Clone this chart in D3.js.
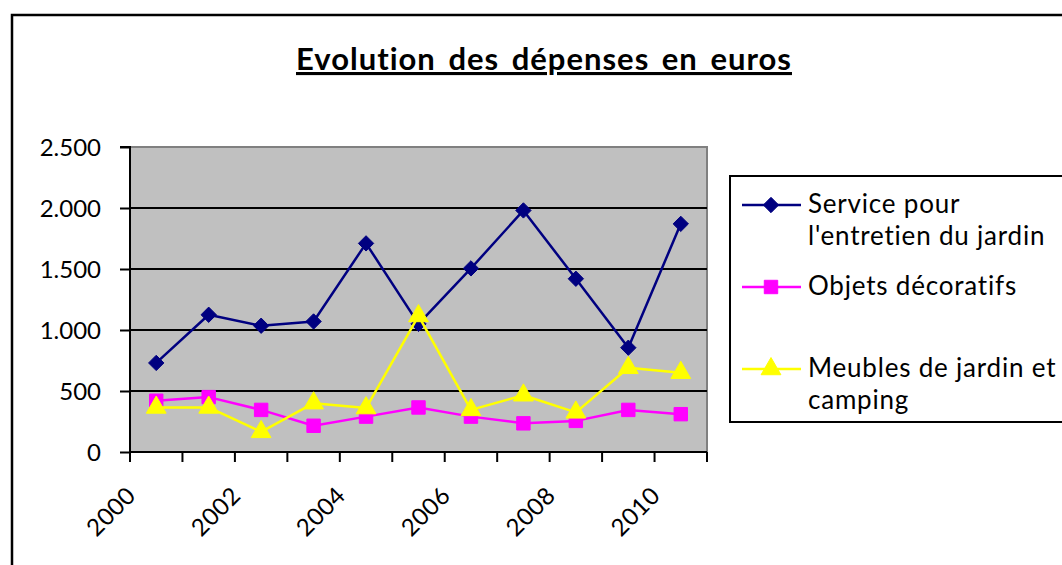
<!DOCTYPE html>
<html>
<head>
<meta charset="utf-8">
<script src="https://cdn.jsdelivr.net/npm/d3@7"></script>
<style>
  html, body { margin: 0; padding: 0; background: #fff; }
  svg { display: block; font-family: Lato, 'Open Sans', sans-serif; }
</style>
</head>
<body>
<div id="chart"></div>
<script>
var years = ['2000', '2001', '2002', '2003', '2004', '2005', '2006', '2007', '2008', '2009', '2010'];
var yearLabels = ['2000', '2002', '2004', '2006', '2008', '2010'];
var serviceJardin = [730, 1125, 1035, 1070, 1710, 1050, 1505, 1980, 1420, 855, 1870];
var objetsDecoratifs = [420, 450, 345, 215, 290, 365, 290, 235, 255, 345, 310];
var meublesCamping = [365, 365, 165, 400, 360, 1115, 345, 465, 325, 690, 650];
var yTicks = [0, 500, 1000, 1500, 2000, 2500];
var seriesNames = [
  ['Service pour', 'l\'entretien du jardin'],
  ['Objets décoratifs'],
  ['Meubles de jardin et', 'camping']
];

(function() {
    'use strict';

    var fullWidth = 1062, fullHeight = 565;

    var area = { left: 130, top: 147, right: 707, bottom: 452 };

    var series = [
        { names: seriesNames[0], values: serviceJardin, color: '#000080', symbol: d3.symbolDiamond2, size: 150 },
        { names: seriesNames[1], values: objetsDecoratifs, color: '#FF00FF', symbol: d3.symbolSquare, size: 180 },
        { names: seriesNames[2], values: meublesCamping, color: '#FFFF00', symbol: d3.symbolTriangle, size: 170 }
    ];

    var svg = d3.select('#chart')
      .append('svg')
        .attr('width', fullWidth)
        .attr('height', fullHeight);

    // outer chart frame (runs off the right and bottom of the picture)
    svg.append('rect')
        .attr('x', 12)
        .attr('y', 15)
        .attr('width', fullWidth + 20)
        .attr('height', fullHeight + 20)
        .attr('fill', '#fff')
        .attr('stroke', '#000')
        .attr('stroke-width', 2.5);

    svg.append('text')
        .attr('x', 544)
        .attr('y', 70)
        .attr('text-anchor', 'middle')
        .style('font-size', '31px')
        .style('font-weight', 'bold')
        .style('letter-spacing', '1px')
        .style('word-spacing', '4px')
        .style('text-decoration', 'underline')
        .text('Evolution des dépenses en euros');

    var x = d3.scaleBand()
      .domain(years)
      .range([area.left, area.right]);

    var y = d3.scaleLinear()
      .domain([0, 2500])
      .range([area.bottom, area.top]);

    function cx(d, i) { return x(years[i]) + x.bandwidth() / 2; }

    // plot area
    svg.append('rect')
        .attr('x', area.left)
        .attr('y', area.top)
        .attr('width', area.right - area.left)
        .attr('height', area.bottom - area.top)
        .attr('fill', '#C0C0C0');

    svg.append('path')
        .attr('d', 'M' + area.left + ',' + area.top + 'H' + area.right + 'V' + area.bottom)
        .attr('fill', 'none')
        .attr('stroke', '#808080')
        .attr('stroke-width', 2);

    svg.append('g')
      .selectAll('line')
      .data(yTicks.filter(function(d) { return d > 0 && d < 2500; }))
      .enter().append('line')
        .attr('x1', area.left)
        .attr('x2', area.right)
        .attr('y1', function(d) { return y(d); })
        .attr('y2', function(d) { return y(d); })
        .attr('stroke', '#000')
        .attr('stroke-width', 2);

    // y axis
    var yAxis = d3.axisLeft(y)
      .tickValues(yTicks)
      .tickSize(10)
      .tickPadding(19)
      .tickFormat(function(d) { return d3.format(',')(d).replace(/,/g, '.'); });

    var gy = svg.append('g')
        .attr('transform', 'translate(' + area.left + ',0)')
      .call(yAxis);
    gy.select('.domain').attr('stroke-width', 2).attr('d', 'M-10,' + area.top + 'H0V' + area.bottom);
    gy.selectAll('.tick line').attr('stroke-width', 2);
    gy.selectAll('.tick text')
        .attr('fill', '#000')
        .attr('dy', '0.36em')
        .style('font-family', 'Lato, sans-serif')
        .style('font-size', '24px');

    // x axis: ticks on category boundaries
    var boundaries = years.map(function(d) { return x(d); }).concat([area.right]);

    svg.append('line')
        .attr('x1', area.left)
        .attr('x2', area.right)
        .attr('y1', area.bottom)
        .attr('y2', area.bottom)
        .attr('stroke', '#000')
        .attr('stroke-width', 2);

    svg.append('g')
      .selectAll('line')
      .data(boundaries)
      .enter().append('line')
        .attr('x1', function(d) { return d; })
        .attr('x2', function(d) { return d; })
        .attr('y1', area.bottom)
        .attr('y2', area.bottom + 10)
        .attr('stroke', '#000')
        .attr('stroke-width', 2);

    svg.append('g')
      .selectAll('text')
      .data(yearLabels)
      .enter().append('text')
        .attr('text-anchor', 'end')
        .attr('transform', function(d) {
            return 'translate(' + (x(d) + x.bandwidth() / 2 - 19) + ',' + (area.bottom + 45) + ') rotate(-45)';
        })
        .style('font-size', '24px')
        .style('letter-spacing', '0.5px')
        .text(function(d) { return d; });

    // series
    var lineGen = d3.line()
      .x(cx)
      .y(function(d) { return y(d); });

    var sg = svg.selectAll('.serie')
      .data(series)
      .enter().append('g')
        .attr('class', 'serie');

    sg.append('path')
        .attr('d', function(s) { return lineGen(s.values); })
        .attr('fill', 'none')
        .attr('stroke', function(s) { return s.color; })
        .attr('stroke-width', 2.5)
        .attr('stroke-linejoin', 'round');

    sg.each(function(s) {
        d3.select(this).selectAll('.marker')
          .data(s.values)
          .enter().append('path')
            .attr('class', 'marker')
            .attr('transform', function(d, i) { return 'translate(' + cx(d, i) + ',' + y(d) + ')'; })
            .attr('d', d3.symbol().type(s.symbol).size(s.size))
            .attr('fill', s.color)
            .attr('stroke', s.color)
            .attr('stroke-width', 1);
    });

    // legend
    var legendBox = { left: 730, top: 176, bottom: 422 };
    var legendRows = [213, 295, 377];
    var lineHeight = 32;

    svg.append('rect')
        .attr('x', legendBox.left)
        .attr('y', legendBox.top)
        .attr('width', 400)
        .attr('height', legendBox.bottom - legendBox.top)
        .attr('fill', '#fff')
        .attr('stroke', '#000')
        .attr('stroke-width', 2);

    var item = svg.selectAll('.legend-item')
      .data(series)
      .enter().append('g')
        .attr('class', 'legend-item')
        .attr('transform', function(s, i) { return 'translate(0,' + legendRows[i] + ')'; });

    item.append('line')
        .attr('x1', 742)
        .attr('x2', 801)
        .attr('y1', -8)
        .attr('y2', -8)
        .attr('stroke', function(s) { return s.color; })
        .attr('stroke-width', 2.5);

    item.append('path')
        .attr('transform', 'translate(771,-8)')
        .attr('d', function(s) { return d3.symbol().type(s.symbol).size(s.size)(); })
        .attr('fill', function(s) { return s.color; })
        .attr('stroke', function(s) { return s.color; });

    item.append('text')
        .attr('x', 808)
        .style('font-size', '26px')
        .style('letter-spacing', '0.8px')
      .selectAll('tspan')
      .data(function(s) { return s.names; })
      .enter().append('tspan')
        .attr('x', 808)
        .attr('y', function(d, i) { return i * lineHeight; })
        .text(function(d) { return d; });

})();
</script>
</body>
</html>
